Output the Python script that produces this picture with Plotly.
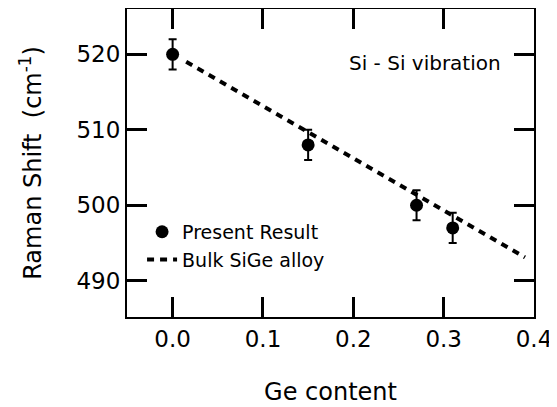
import plotly.graph_objects as go

ge_content = [0.0, 0.15, 0.27, 0.31]
raman_shift = [520.0, 508.0, 500.0, 497.0]
raman_err = [2.0, 2.0, 2.0, 2.0]

bulk_x = [0.015, 0.39]
bulk_y = [519.0, 493.1]

x_ticks = [0.0, 0.1, 0.2, 0.3, 0.4]
y_ticks = [490, 500, 510, 520]

FONT = "DejaVu Sans, Liberation Sans, Arial, sans-serif"

fig = go.Figure()
fig.add_trace(go.Scatter(
    x=ge_content, y=raman_shift, mode="markers", name="Present Result",
    marker=dict(symbol="circle", size=13, color="black"),
    error_y=dict(type="data", array=raman_err, visible=True, color="black",
                 thickness=2, width=4),
))
fig.add_trace(go.Scatter(
    x=bulk_x, y=bulk_y, mode="lines", name="Bulk SiGe alloy",
    line=dict(color="black", width=4, dash="7px,6px"),
))

fig.add_annotation(x=0.925, y=0.825, xref="paper", yref="paper",
                   text="Si - Si vibration", showarrow=False,
                   xanchor="right", yanchor="middle",
                   font=dict(family=FONT, size=20, color="black"))

axis_common = dict(showline=True, linecolor="black", linewidth=2,
                   mirror="ticks", ticks="inside", ticklen=20, tickwidth=2.5,
                   tickcolor="#000000", showgrid=False, zeroline=False,
                   automargin=False,
                   tickfont=dict(family=FONT, size=23, color="black"))

fig.update_xaxes(range=[-0.0505, 0.4], tickmode="array", tickvals=x_ticks,
                 ticktext=[f"{v:.1f}" for v in x_ticks],
                 title=dict(text="Ge content", standoff=33,
                            font=dict(family=FONT, size=24, color="black")),
                 **axis_common)
fig.update_yaxes(range=[485.2, 526.0], tickmode="array", tickvals=y_ticks,
                 ticktext=[str(v) for v in y_ticks],
                 title=dict(text="Raman Shift  (cm<sup>-1</sup>)", standoff=28,
                            font=dict(family=FONT, size=24, color="black")),
                 **axis_common)

fig.update_layout(
    template="none",
    width=549, height=399,
    margin=dict(l=119, r=23, t=1, b=90, pad=0),
    paper_bgcolor="white", plot_bgcolor="white",
    showlegend=True,
    legend=dict(x=0.037, y=0.338, xanchor="left", yanchor="top",
                bgcolor="rgba(0,0,0,0)", borderwidth=0,
                font=dict(family=FONT, size=19, color="black"),
                tracegroupgap=0, itemwidth=30),
)

fig.write_html("out.html")
